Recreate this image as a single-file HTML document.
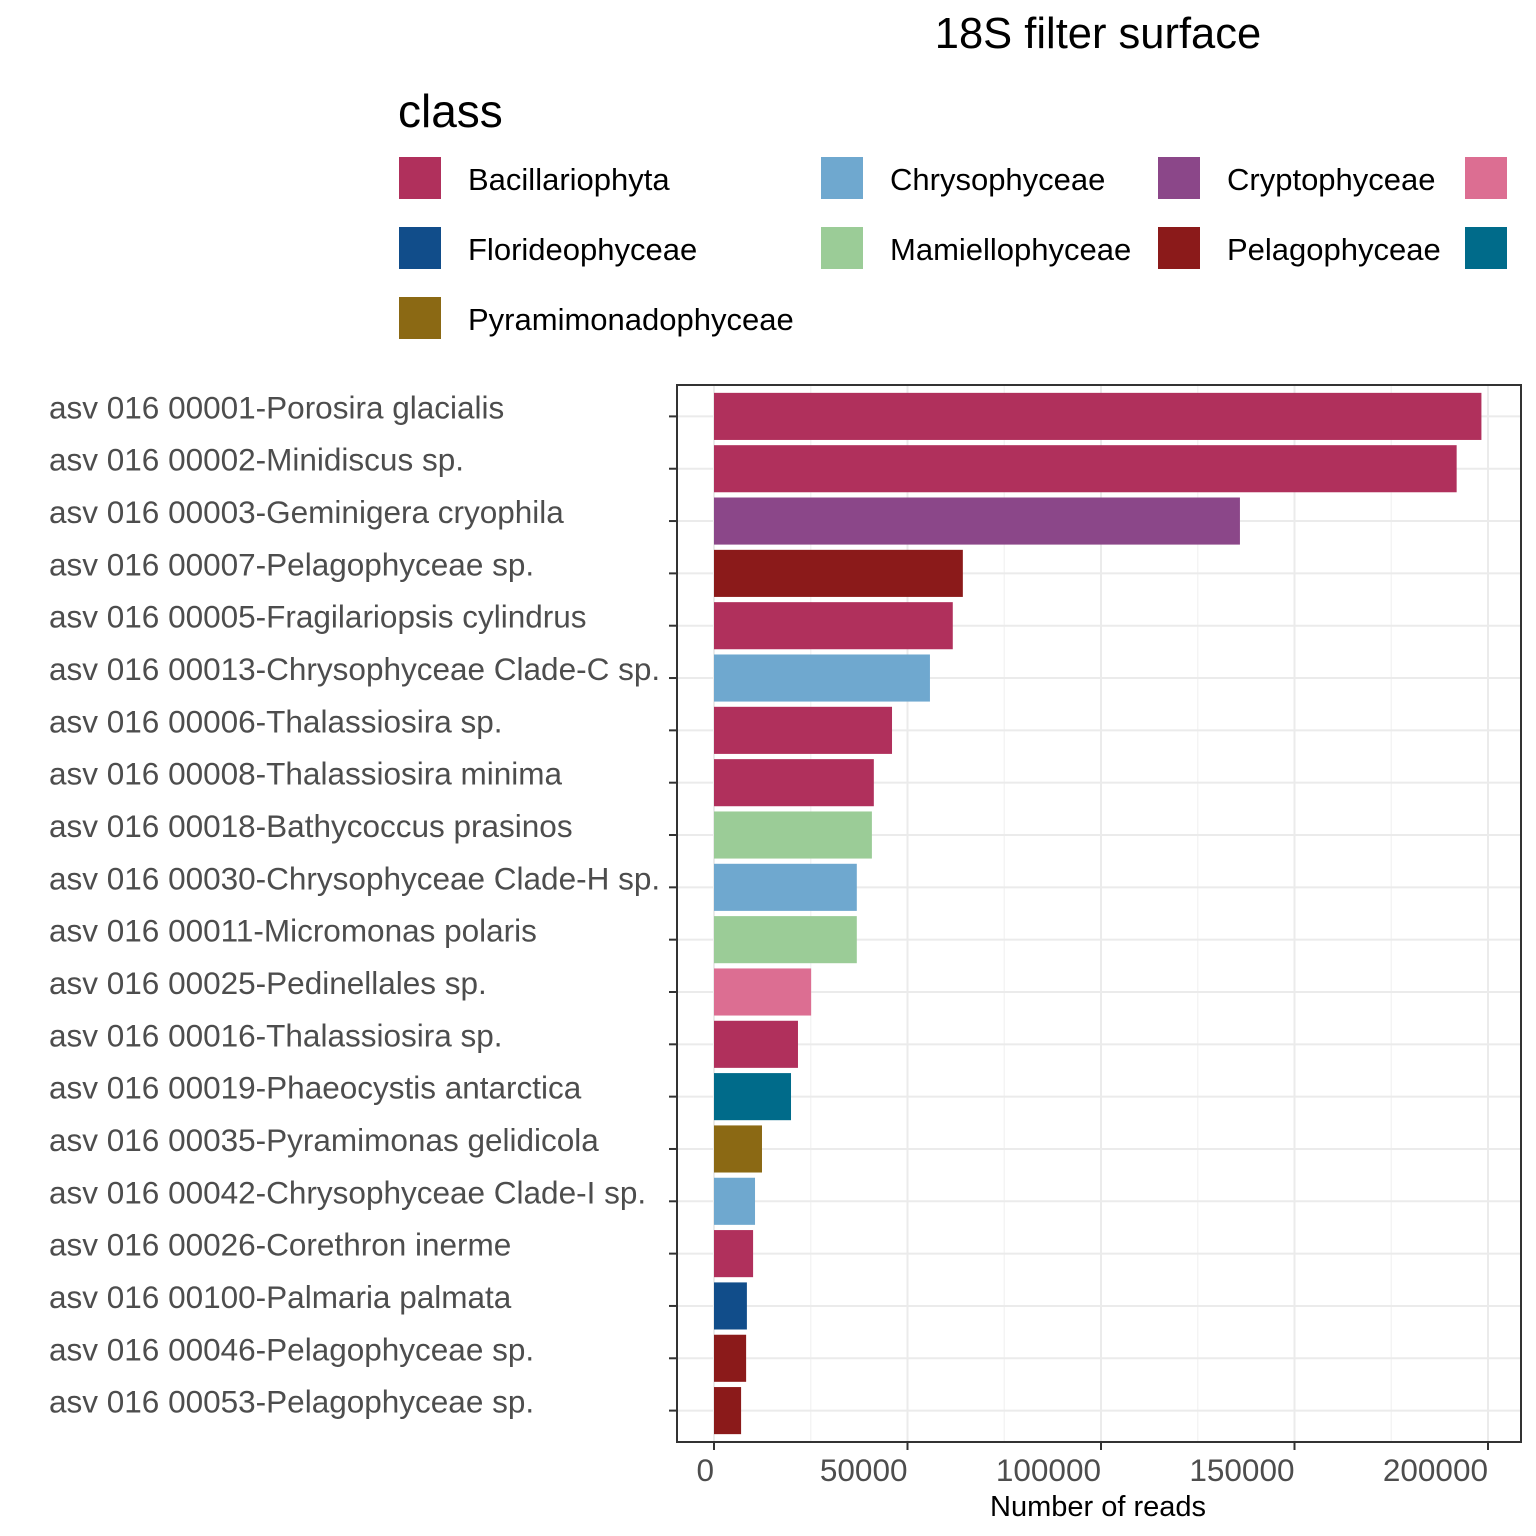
<!DOCTYPE html>
<html><head><meta charset="utf-8"><style>
html,body{margin:0;padding:0;background:#fff;}
svg{display:block;font-family:"Liberation Sans",Arial,sans-serif;}
</style></head><body>
<svg id="chart" width="1536" height="1536" viewBox="0 0 1536 1536">
<text x="1098" y="48" text-anchor="middle" font-size="43.5" fill="#000">18S filter surface</text>
<text x="398" y="127" font-size="46" fill="#000">class</text>
<g id="legend"></g>
<g id="plot"></g>
</svg>
<script>
const categories = ["asv 016 00001-Porosira glacialis","asv 016 00002-Minidiscus sp.","asv 016 00003-Geminigera cryophila","asv 016 00007-Pelagophyceae sp.","asv 016 00005-Fragilariopsis cylindrus","asv 016 00013-Chrysophyceae Clade-C sp.","asv 016 00006-Thalassiosira sp.","asv 016 00008-Thalassiosira minima","asv 016 00018-Bathycoccus prasinos","asv 016 00030-Chrysophyceae Clade-H sp.","asv 016 00011-Micromonas polaris","asv 016 00025-Pedinellales sp.","asv 016 00016-Thalassiosira sp.","asv 016 00019-Phaeocystis antarctica","asv 016 00035-Pyramimonas gelidicola","asv 016 00042-Chrysophyceae Clade-I sp.","asv 016 00026-Corethron inerme","asv 016 00100-Palmaria palmata","asv 016 00046-Pelagophyceae sp.","asv 016 00053-Pelagophyceae sp."];
const reads = [198300,191900,135900,64300,61700,55800,46000,41300,40800,36900,36900,25100,21700,19900,12400,10600,10100,8500,8300,7000];
const classOf = ["Bacillariophyta","Bacillariophyta","Cryptophyceae","Pelagophyceae","Bacillariophyta","Chrysophyceae","Bacillariophyta","Bacillariophyta","Mamiellophyceae","Chrysophyceae","Mamiellophyceae","Dictyochophyceae","Bacillariophyta","Prymnesiophyceae","Pyramimonadophyceae","Chrysophyceae","Bacillariophyta","Florideophyceae","Pelagophyceae","Pelagophyceae"];
const legendClasses = ["Bacillariophyta","Chrysophyceae","Cryptophyceae","Dictyochophyceae","Florideophyceae","Mamiellophyceae","Pelagophyceae","Prymnesiophyceae","Pyramimonadophyceae"];
const classColors = ["#b0305c","#6fa8cf","#8b4789","#dc6e92","#114d8a","#9bcc97","#8b1a1a","#006b8a","#8b6914"];
const xTicks = [0,50000,100000,150000,200000];
const xMinor = [25000,75000,125000,175000];

const NS="http://www.w3.org/2000/svg";
function mk(tag,attrs,parent){const e=document.createElementNS(NS,tag);for(const k in attrs)e.setAttribute(k,attrs[k]);parent.appendChild(e);return e;}
const P={l:677,r:1521,t:385,b:1442};
const x=v=>714+v*(1488-714)/200000;
const band=(P.b-P.t)/(categories.length-1+1.2);
const y=i=>P.t+band*(0.6+i);
const plot=document.getElementById('plot');
const colorOf=c=>classColors[legendClasses.indexOf(c)];

xMinor.forEach(v=>{const g=mk('line',{x1:x(v),x2:x(v),y1:P.t,y2:P.b,stroke:'#f3f3f3','stroke-width':1.2},plot);

});
xTicks.forEach(v=>{const g=mk('line',{x1:x(v),x2:x(v),y1:P.t,y2:P.b,stroke:'#ebebeb','stroke-width':2},plot);

});
categories.forEach((c,i)=>{const g=mk('line',{x1:P.l,x2:P.r,y1:y(i),y2:y(i),stroke:'#ebebeb','stroke-width':2},plot);

});
categories.forEach((c,i)=>{
 const b=mk('rect',{x:x(0),y:y(i)-band*0.45,width:x(reads[i])-x(0),height:band*0.9,fill:colorOf(classOf[i])},plot);
 
 
 const t=mk('line',{x1:669,x2:677,y1:y(i),y2:y(i),stroke:'#333','stroke-width':2},plot);
 
 
 const l=mk('text',{x:49,y:y(i)+2,'font-size':31.5,fill:'#4d4d4d'},plot);
 l.textContent=c;
 
 
});
const fr=mk('rect',{x:P.l,y:P.t,width:P.r-P.l,height:P.b-P.t,fill:'none',stroke:'#333','stroke-width':2},plot);


xTicks.forEach(v=>{
 const t=mk('line',{x1:x(v),x2:x(v),y1:P.b,y2:P.b+8,stroke:'#333','stroke-width':2},plot);
 
 
 const l=mk('text',{x:x(v),y:1481,'font-size':31.5,fill:'#4d4d4d','text-anchor':'end'},plot);
 l.textContent=v;
 
 
});
const xt=mk('text',{x:1098,y:1516,'font-size':29,fill:'#000','text-anchor':'middle'},plot);
xt.textContent='Number of reads';


const lg=document.getElementById('legend');
const colX=[399,821,1158,1465];
legendClasses.forEach((c,i)=>{
 const row=Math.floor(i/4),col=i%4;
 const ky=157+row*70;
 const k=mk('rect',{x:colX[col],y:ky,width:42,height:42,fill:classColors[i]},lg);
 
 
 const t=mk('text',{x:colX[col]+69,y:ky+33,'font-size':31,fill:'#000'},lg);
 t.textContent=c;
 
 
});
</script>
</body></html>
